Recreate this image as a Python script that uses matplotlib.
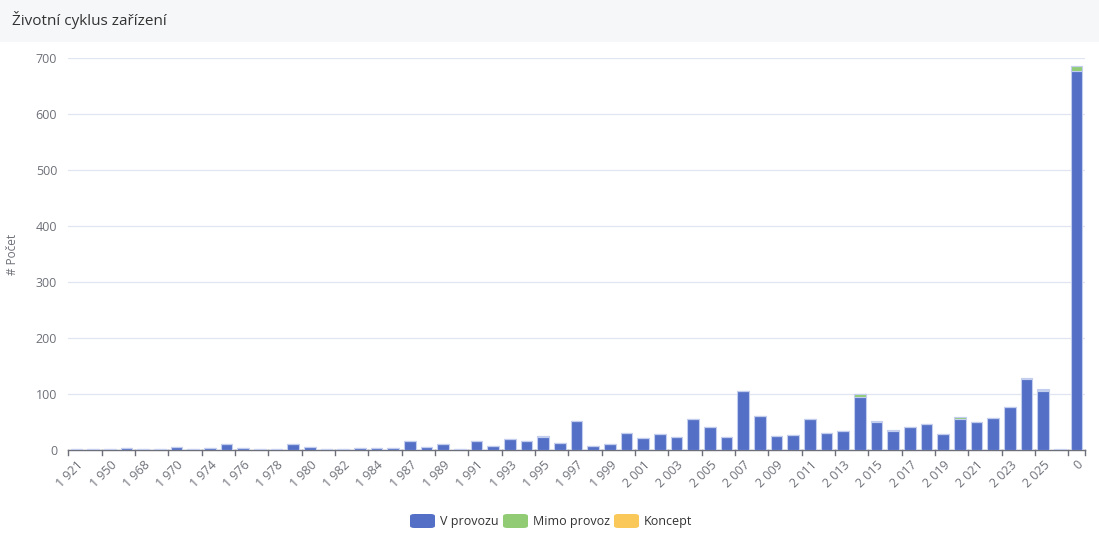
import numpy as np
import matplotlib.pyplot as plt
from matplotlib.patches import Rectangle, FancyBboxPatch

plt.rcParams['font.family'] = ['Open Sans', 'DejaVu Sans']

# kategorie (roky), skryté popisky jsou mezi zobrazenými
roky = ['1 921', '1 935', '1 950', '1 960', '1 968', '1 969', '1 970', '1 972',
        '1 974', '1 975', '1 976', '1 977', '1 978', '1 979', '1 980', '1 981',
        '1 982', '1 983', '1 984', '1 985', '1 987', '1 988', '1 989', '1 990',
        '1 991', '1 992', '1 993', '1 994', '1 995', '1 996', '1 997', '1 998',
        '1 999', '2 000', '2 001', '2 002', '2 003', '2 004', '2 005', '2 006',
        '2 007', '2 008', '2 009', '2 010', '2 011', '2 012', '2 013', '2 014',
        '2 015', '2 016', '2 017', '2 018', '2 019', '2 020', '2 021', '2 022',
        '2 023', '2 024', '2 025', '2 026', '0']

v_provozu = [2, 2, 1, 4, 1, 2, 5, 1, 4, 10, 4, 2, 1, 10, 5, 1,
             1, 4, 3, 4, 16, 5, 11, 1, 16, 7, 19, 16, 24, 13, 51, 7,
             11, 31, 22, 28, 23, 56, 41, 23, 105, 61, 25, 26, 56, 31, 34, 94,
             50, 34, 41, 47, 29, 56, 50, 58, 76, 126, 106, 0, 677]
mimo_provoz = [0, 0, 0, 0, 0, 0, 0, 0, 0, 0, 0, 0, 0, 0, 0, 0,
               0, 0, 0, 0, 0, 0, 0, 0, 0, 0, 1, 0, 1, 0, 1, 0,
               0, 0, 0, 0, 0, 0, 0, 0, 0, 0, 0, 0, 0, 0, 0, 6,
               2, 2, 0, 0, 0, 3, 0, 0, 1, 3, 2, 1, 9]
koncept = [0] * 58 + [1, 0, 0]

barvy = ['#5470c6', '#91cc75', '#fac858']
okraj = '#c3cdee'

fig = plt.figure(figsize=(10.99, 5.35), dpi=100)

# hlavička
fig.patches.append(Rectangle((0, 1 - 42 / 535), 1, 42 / 535, transform=fig.transFigure,
                             facecolor='#f6f7f9', edgecolor='none', zorder=0))
fig.text(12 / 1099, 1 - 20 / 535, 'Životní cyklus zařízení', fontsize=11,
         color='#333333', va='center', ha='left')

ax = fig.add_axes([68.3 / 1099, 1 - 450 / 535, (1085 - 68.3) / 1099, (450 - 58) / 535])
x = np.arange(len(roky))
dolni = np.zeros(len(roky))
for hodnoty, barva in zip([v_provozu, mimo_provoz, koncept], barvy):
    h = np.array(hodnoty, dtype=float)
    ax.bar(x, h, bottom=dolni, width=0.7, color=barva, edgecolor=okraj,
           linewidth=0.8, zorder=3)
    dolni += h

ax.set_xlim(-0.5, len(roky) - 0.5)
ax.set_ylim(0, 700)
ax.set_yticks(range(0, 701, 100))
ax.tick_params(axis='y', length=0, labelsize=9, labelcolor='#6e7079', pad=8)
ax.grid(axis='y', color='#e0e6f1', linewidth=0.9, zorder=0)

idx = list(range(0, len(roky), 2))
ax.set_xticks(idx)
ax.set_xticklabels([roky[i] for i in idx], rotation=45, ha='right',
                   rotation_mode='anchor', fontsize=9, color='#6e7079')
ax.tick_params(axis='x', length=0, pad=6)
for i in idx + [len(roky)]:
    ax.plot([i - 0.5, i - 0.5], [0, -0.012], transform=ax.get_xaxis_transform(),
            color='#6e7079', linewidth=1, clip_on=False)

for s in ['top', 'right', 'left']:
    ax.spines[s].set_visible(False)
ax.spines['bottom'].set_color('#6e7079')
ax.spines['bottom'].set_linewidth(1)

fig.text(12 / 1099, 1 - 254 / 535, '# Počet', rotation=90, fontsize=8.5,
         color='#6e7079', va='center', ha='center')

# legenda
polozky = [('V provozu', 410), ('Mimo provoz', 503), ('Koncept', 614)]
for (text, px), barva in zip(polozky, barvy):
    fig.patches.append(FancyBboxPatch((px / 1099, 1 - 528 / 535), 25 / 1099, 14 / 535,
                                      boxstyle='round,pad=0,rounding_size=0.004',
                                      transform=fig.transFigure, facecolor=barva,
                                      edgecolor='none'))
    fig.text((px + 30) / 1099, 1 - 521 / 535, text, fontsize=9, color='#333333',
             va='center', ha='left')

fig.savefig('out.png', dpi=100)
